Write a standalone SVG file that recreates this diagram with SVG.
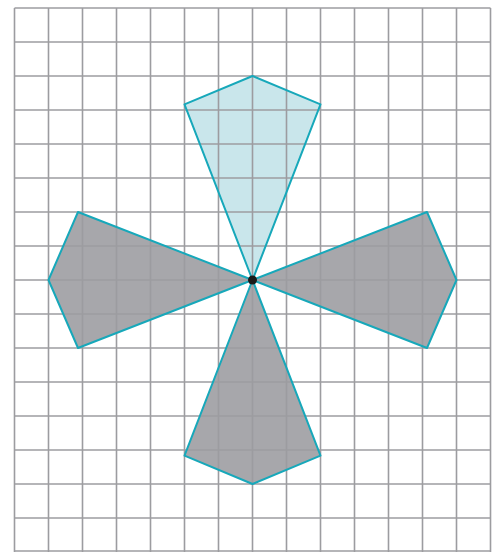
<svg xmlns="http://www.w3.org/2000/svg" width="492" height="552" viewBox="0 0 492 552">
<defs>
<style>
.grid line{stroke:#9c9ca0;stroke-width:1.6}
.fillb{fill:#c9e6eb}
.fillg{fill:#a7a7ab}
.edge{fill:none;stroke:#17a8ba;stroke-width:2;stroke-linejoin:round}
</style>
</defs>
<rect width="492" height="552" fill="#fff"/>
<g id="fills">
<polygon class="fillb" points="252.5,280 184.5,104.3 252.5,76 320.5,104.3"/>
<polygon class="fillg" points="252.5,280 427,212 456.5,280 427,348"/>
<polygon class="fillg" points="252.5,280 78,212 48.5,280 78,348"/>
<polygon class="fillg" points="252.5,280 184.5,455.7 252.5,484 320.5,455.7"/>
</g>
<g class="grid" id="grid">
<line x1="14.5" y1="8" x2="14.5" y2="552"/>
<line x1="48.5" y1="8" x2="48.5" y2="552"/>
<line x1="82.5" y1="8" x2="82.5" y2="552"/>
<line x1="116.5" y1="8" x2="116.5" y2="552"/>
<line x1="150.5" y1="8" x2="150.5" y2="552"/>
<line x1="184.5" y1="8" x2="184.5" y2="552"/>
<line x1="218.5" y1="8" x2="218.5" y2="552"/>
<line x1="252.5" y1="8" x2="252.5" y2="552"/>
<line x1="286.5" y1="8" x2="286.5" y2="552"/>
<line x1="320.5" y1="8" x2="320.5" y2="552"/>
<line x1="354.5" y1="8" x2="354.5" y2="552"/>
<line x1="388.5" y1="8" x2="388.5" y2="552"/>
<line x1="422.5" y1="8" x2="422.5" y2="552"/>
<line x1="456.5" y1="8" x2="456.5" y2="552"/>
<line x1="490.5" y1="8" x2="490.5" y2="552"/>
<line x1="14.5" y1="8" x2="490.5" y2="8"/>
<line x1="14.5" y1="42" x2="490.5" y2="42"/>
<line x1="14.5" y1="76" x2="490.5" y2="76"/>
<line x1="14.5" y1="110" x2="490.5" y2="110"/>
<line x1="14.5" y1="144" x2="490.5" y2="144"/>
<line x1="14.5" y1="178" x2="490.5" y2="178"/>
<line x1="14.5" y1="212" x2="490.5" y2="212"/>
<line x1="14.5" y1="246" x2="490.5" y2="246"/>
<line x1="14.5" y1="280" x2="490.5" y2="280"/>
<line x1="14.5" y1="314" x2="490.5" y2="314"/>
<line x1="14.5" y1="348" x2="490.5" y2="348"/>
<line x1="14.5" y1="382" x2="490.5" y2="382"/>
<line x1="14.5" y1="416" x2="490.5" y2="416"/>
<line x1="14.5" y1="450" x2="490.5" y2="450"/>
<line x1="14.5" y1="484" x2="490.5" y2="484"/>
<line x1="14.5" y1="518" x2="490.5" y2="518"/>
<line x1="14.5" y1="551" x2="490.5" y2="551"/>
</g>
<g id="outlines">
<polygon class="edge" points="252.5,280 184.5,104.3 252.5,76 320.5,104.3"/>
<polygon class="edge" points="252.5,280 427,212 456.5,280 427,348"/>
<polygon class="edge" points="252.5,280 78,212 48.5,280 78,348"/>
<polygon class="edge" points="252.5,280 184.5,455.7 252.5,484 320.5,455.7"/>
</g>
<circle id="center" cx="252.5" cy="280" r="4.5" fill="#1a1a1a"/>
</svg>
